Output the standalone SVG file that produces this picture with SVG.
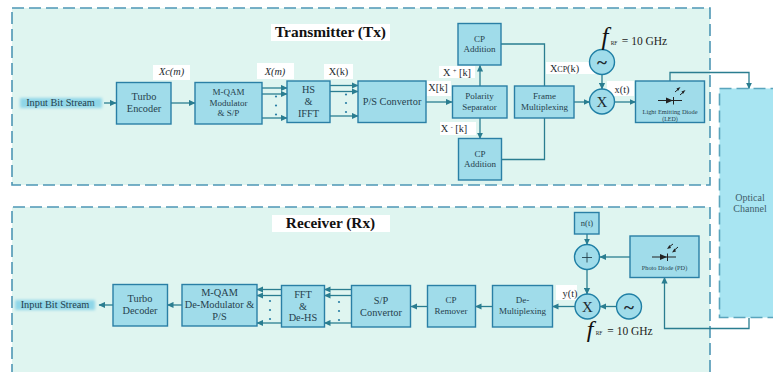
<svg xmlns="http://www.w3.org/2000/svg" width="773" height="372" viewBox="0 0 773 372">
<style>
text{font-family:"Liberation Serif","Times New Roman",serif;fill:#25414d;text-anchor:middle}
.panel{fill:#dff5f0;stroke:#4e97b5;stroke-width:1.6;stroke-dasharray:12 5}
.box{fill:#a0dcea;stroke:#2a7fa5;stroke-width:1.4}
.circ{fill:#a0dcea;stroke:#1f7fa5;stroke-width:1.4}
.w{fill:#fff}
.l{fill:none;stroke:#2a7d90;stroke-width:1.3;marker-end:url(#a)}
.n{fill:none;stroke:#2a7d90;stroke-width:1.3}
.t{font-size:10.3px}
.s{font-size:9px}
.lb{font-size:10.3px;fill:#1e2a30}
.d{fill:#2a7fa5}
.dio{stroke:#222;stroke-width:1;fill:none}
</style>
<defs>
<marker id="a" markerWidth="7" markerHeight="7" refX="6" refY="3.500" orient="auto" markerUnits="userSpaceOnUse"><path d="M0 .4L6.500 3.500L0 6.600z" fill="#2a7d90"/></marker>
<filter id="g" x="-20%" y="-60%" width="140%" height="220%"><feGaussianBlur stdDeviation="1.4"/></filter>
</defs>
<rect width="773" height="372" fill="#fff"/>
<g id="panels">
<rect class="panel" x="12" y="8" width="698" height="177"/>
<path d="M12 376V207H710V376Z" class="panel"/>
</g>
<g id="optical-channel"><rect x="719.500" y="88.500" width="60" height="229" fill="#a8e5f2" stroke="#5aa5bd" stroke-width="1.600" stroke-dasharray="12 5"/><text x="750" y="201" font-size="10px" style="fill:#3f5f6c">Optical</text><text x="750" y="212" font-size="10px" style="fill:#3f5f6c">Channel</text></g>
<g id="labels-bg">
<rect class="w" x="271" y="24" width="119" height="17"/>
<rect class="w" x="272" y="215" width="118" height="17"/>
<rect class="w" x="153" y="65" width="37" height="15"/>
<rect class="w" x="257" y="63" width="37" height="16"/>
<rect class="w" x="324" y="64" width="29" height="15"/>
<rect class="w" x="427" y="81" width="24" height="15"/>
<rect class="w" x="439" y="66" width="36" height="12"/>
<rect class="w" x="440" y="122" width="36" height="13"/>
<rect class="w" x="546" y="62" width="56" height="12"/>
<rect class="w" x="607" y="81" width="27" height="15"/>
<rect class="w" x="556" y="285" width="21" height="15"/>
</g>
<g id="connectors">
<path class="l" d="M104 103H116"/>
<path class="l" d="M171 103H195"/>
<path class="l" d="M262 88H287"/><path class="l" d="M262 94H287"/><path class="l" d="M262 118H287"/>
<path class="l" d="M330 85.500H358"/><path class="l" d="M330 91.500H358"/><path class="l" d="M330 116H358"/>
<path class="l" d="M426 102H452"/>
<path class="l" d="M480 86V65.500"/>
<path class="l" d="M480 118V138.500"/>
<path class="n" d="M501 44H544.500V86"/>
<path class="n" d="M501.500 159.500H544.500V118"/>
<path class="l" d="M574 102H589.500"/>
<path class="l" d="M602 74.500V89"/>
<path class="l" d="M614.500 102H635.500"/>
<path class="l" d="M670 81V72.500H749V88.500"/>
<path class="l" d="M749 318V328.500H664.500V277.500"/>
<path class="l" d="M630 257H600"/>
<path class="l" d="M587 234V244.500"/>
<path class="l" d="M587 269.500V294"/>
<path class="l" d="M616.500 306.500H600"/>
<path class="l" d="M575 306.500H552.500"/>
<path class="l" d="M492.500 306.500H475.500"/>
<path class="l" d="M427 306.500H411"/>
<path class="l" d="M351.500 289.500H324.500"/><path class="l" d="M351.500 295.500H324.500"/><path class="l" d="M351.500 323H324.500"/>
<path class="l" d="M281.500 289.500H257"/><path class="l" d="M281.500 295.500H257"/><path class="l" d="M281.500 323H257"/>
<path class="l" d="M182 305H167.500"/>
<path class="l" d="M113 305H99"/>
</g>
<g id="dots" class="d">
<circle cx="276" cy="96.500" r="1.100"/><circle cx="276" cy="105.500" r="1.100"/><circle cx="276" cy="114.500" r="1.100"/>
<circle cx="346" cy="94.500" r="1.100"/><circle cx="346" cy="103" r="1.100"/><circle cx="346" cy="112" r="1.100"/>
<circle cx="270" cy="301" r="1.100"/><circle cx="270" cy="310" r="1.100"/><circle cx="270" cy="319" r="1.100"/>
<circle cx="339" cy="302" r="1.100"/><circle cx="339" cy="311" r="1.100"/><circle cx="339" cy="320" r="1.100"/>
</g>
<g id="input-tx"><rect x="20" y="98" width="82" height="10" fill="#8fd6e8" filter="url(#g)"/><text class="t" x="60.500" y="106">Input Bit Stream</text></g>
<g id="turbo-encoder"><rect class="box" x="116.500" y="82.500" width="54.500" height="41.500"/><text class="t" x="144" y="100">Turbo</text><text class="t" x="144" y="112">Encoder</text></g>
<g id="mqam-mod"><rect class="box" x="195" y="82.500" width="67" height="41.500"/><text class="s" x="228.500" y="95">M-QAM</text><text class="s" x="228.500" y="106">Modulator</text><text class="s" x="228.500" y="116">&amp; S/P</text></g>
<g id="hs-ifft"><rect class="box" x="287" y="81" width="43" height="41.500"/><text class="t" x="308.500" y="93">HS</text><text class="t" x="308.500" y="105">&amp;</text><text class="t" x="308.500" y="117">IFFT</text></g>
<g id="ps"><rect class="box" x="358" y="81" width="68" height="41.500"/><text class="t" x="392" y="105">P/S Convertor</text></g>
<g id="polarity"><rect class="box" x="452.500" y="86" width="54.500" height="32"/><text class="s" x="479.500" y="99">Polarity</text><text class="s" x="479.500" y="110">Separator</text></g>
<g id="cp-top"><rect class="box" x="458" y="23.500" width="43" height="41.500"/><text class="s" x="479.500" y="42">CP</text><text class="s" x="479.500" y="52">Addition</text></g>
<g id="cp-bot"><rect class="box" x="458.500" y="138.500" width="43" height="41.500"/><text class="s" x="480" y="157">CP</text><text class="s" x="480" y="167">Addition</text></g>
<g id="frame"><rect class="box" x="514.500" y="86" width="59.500" height="32"/><text class="s" x="544.500" y="99">Frame</text><text class="s" x="544.500" y="110">Multiplexing</text></g>
<g id="tx-lo"><circle class="circ" cx="602" cy="62" r="12.500"/><text x="602" y="69" font-size="19px" font-weight="bold" style="fill:#1e2a30">~</text></g>
<g id="tx-mix"><circle class="circ" cx="602" cy="101.500" r="12.500"/><text x="602" y="107" font-size="15px" style="fill:#1e2a30">X</text></g>
<g id="led"><rect class="box" x="635.500" y="81" width="69" height="41.500"/>
<path class="dio" d="M658 100.500H682"/><path d="M666 97.500L673 100.500L666 103.500z" fill="#222"/><path class="dio" d="M673.500 97V104.500" stroke-width="1.400"/>
<path class="dio" d="M675 92L679 88.500M680 95L684 91.500"/><path d="M680.500 87L678 91L676.500 88.500zM685.500 90L683 94L681.500 91.500z" fill="#222"/>
<text x="670" y="114" font-size="6.400px">Light Emitting Diode</text><text x="670" y="121" font-size="6px">(LED)</text></g>
<g id="pd"><rect class="box" x="630" y="236" width="69" height="41.500"/>
<path class="dio" d="M652 257H676"/><path d="M660 254L667 257L660 260z" fill="#222"/><path class="dio" d="M667.500 253.500V261"/>
<path class="dio" d="M673 244L669 247M678 247L674 250.500"/><path d="M667 249L669.500 245L671 248zM672 252.500L674.500 248.500L676 251.500z" fill="#222"/>
<text x="664.500" y="270" font-size="6.300px">Photo Diode (PD)</text></g>
<g id="noise"><rect class="box" x="574.500" y="212.500" width="24.500" height="21.500"/><text x="587" y="226" font-size="8.500px">n(t)</text></g>
<g id="sum"><circle class="circ" cx="587" cy="257" r="12.500"/><path d="M582 257.500H592M587 252.500V262.500" stroke="#25414d" stroke-width=".9"/></g>
<g id="rx-mix"><circle class="circ" cx="587.500" cy="306.500" r="12.500"/><text x="587.500" y="311.500" font-size="15px" style="fill:#1e2a30">X</text></g>
<g id="rx-lo"><circle class="circ" cx="629" cy="306.500" r="12.500"/><text x="629" y="313.500" font-size="19px" font-weight="bold" style="fill:#1e2a30">~</text></g>
<g id="demux"><rect class="box" x="492.500" y="285.500" width="60" height="41.500"/><text class="s" x="522.500" y="303">De-</text><text class="s" x="522.500" y="314">Multiplexing</text></g>
<g id="cp-rem"><rect class="box" x="427.500" y="285.500" width="48" height="41.500"/><text class="s" x="451" y="303">CP</text><text class="s" x="451" y="314">Remover</text></g>
<g id="sp"><rect class="box" x="351.500" y="285.500" width="59" height="41.500"/><text class="t" x="381" y="304">S/P</text><text class="t" x="381" y="316">Convertor</text></g>
<g id="fft"><rect class="box" x="281.500" y="285.500" width="43" height="41.500"/><text class="t" x="303" y="298">FFT</text><text class="t" x="303" y="310">&amp;</text><text class="t" x="303" y="321">De-HS</text></g>
<g id="mqam-dem"><rect class="box" x="182" y="284.500" width="75" height="41.500"/><text class="t" x="219.500" y="296">M-QAM</text><text class="t" x="219.500" y="308">De-Modulator &amp;</text><text class="t" x="219.500" y="320">P/S</text></g>
<g id="turbo-decoder"><rect class="box" x="113" y="284.500" width="54.500" height="41.500"/><text class="t" x="140" y="302">Turbo</text><text class="t" x="140" y="314">Decoder</text></g>
<g id="output-rx"><rect x="15" y="300" width="80" height="10" fill="#8fd6e8" filter="url(#g)"/><text class="t" x="55" y="308">Input Bit Stream</text></g>
<g id="text-labels">
<text x="330.500" y="37" font-size="15.400px" font-weight="bold" style="fill:#111">Transmitter (Tx)</text>
<text x="330.500" y="228" font-size="15.300px" font-weight="bold" style="fill:#111">Receiver (Rx)</text>
<text class="lb" x="171.500" y="75" font-style="italic">Xc(m)</text>
<text class="lb" x="275" y="75" font-style="italic">X(m)</text>
<text class="lb" x="338.500" y="75">X(k)</text>
<text class="lb" x="438" y="91">X[k]</text>
<text class="lb" x="457" y="76">X <tspan font-size="6px" dy="-3">+</tspan><tspan dy="3"> [k]</tspan></text>
<text class="lb" x="454" y="132">X <tspan font-size="6px" dy="-3">-</tspan><tspan dy="3"> [k]</tspan></text>
<text class="lb" x="564.500" y="72">X<tspan font-size="8px">CP</tspan>(k)</text>
<text class="lb" x="622" y="93">x(t)</text>
<text class="lb" x="570" y="297">y(t)</text>
<text x="605" y="45" font-size="25px" font-style="italic" style="fill:#111">f</text>
<text x="614" y="45" font-size="5.500px" style="fill:#222">RF</text>
<text x="644.500" y="45" font-size="11.500px" style="fill:#222">= 10 GHz</text>
<text x="590" y="337" font-size="24px" font-style="italic" style="fill:#111">f</text>
<text x="599" y="335" font-size="5.500px" style="fill:#222">RF</text>
<text x="630" y="335" font-size="11.500px" style="fill:#222">= 10 GHz</text>
</g>
</svg>
